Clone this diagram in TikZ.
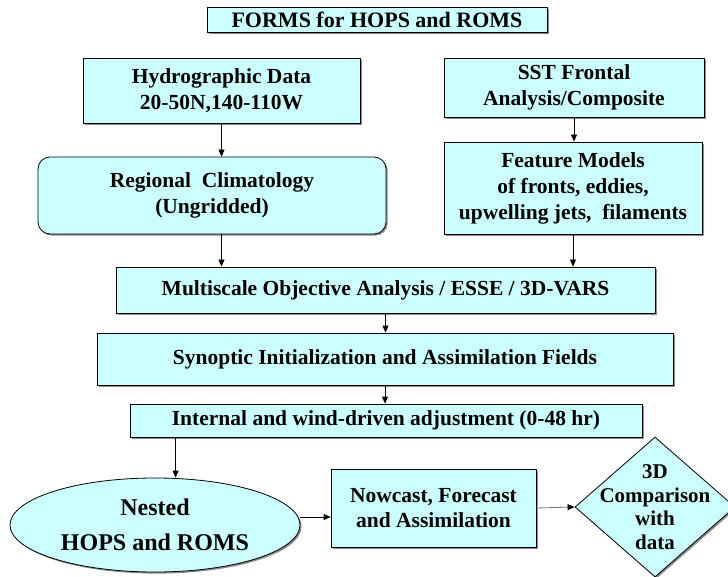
\documentclass[tikz,border=0pt]{standalone}
\usepackage{fontspec}
\setmainfont{Liberation Serif}
\usetikzlibrary{arrows.meta,shapes.geometric,shadows}
\definecolor{cyanclair}{HTML}{CCFFFF}
\definecolor{ombre}{HTML}{8C8C8C}
\tikzset{
  boite/.style={draw=black,line width=0.8pt,fill=cyanclair,align=center,
                font=\fontsize{21.5}{26}\selectfont\bfseries,inner sep=0pt,
                drop shadow={shadow xshift=1.6pt,shadow yshift=-1.6pt,fill=ombre,opacity=1}},
  fleche/.style={-{Triangle[length=7pt,width=6pt,color=black]},line width=0.8pt},
}

\begin{document}
\begin{tikzpicture}[x=1pt,y=-1pt]
  \useasboundingbox (0,0) rectangle (728,577);
  \node[boite,minimum width=340pt,minimum height=25pt,font=\fontsize{22}{26}\selectfont\bfseries] (titre) at (377,20) {FORMS for HOPS and ROMS};
  \node[boite,minimum width=277pt,minimum height=65pt] (hydro) at (221.5,90.5) {Hydrographic Data\\20-50N,140-110W};
  \node[boite,minimum width=260pt,minimum height=59pt] (sst) at (574,87.5) {SST Frontal\\Analysis/Composite};
  \node[boite,rounded corners=12pt,minimum width=348pt,minimum height=77pt] (clim) at (212,195.5) {Regional~ Climatology\\(Ungridded)};
  \node[boite,minimum width=258pt,minimum height=92pt] (modeles) at (573,188) {Feature Models\\of fronts, eddies,\\upwelling jets,~ filaments};
  \node[boite,minimum width=539pt,minimum height=46pt] (oa) at (385.5,290) {Multiscale Objective Analysis / ESSE / 3D-VARS};
  \node[boite,minimum width=576pt,minimum height=52pt] (init) at (385,359) {Synoptic Initialization and Assimilation Fields};
  \node[boite,minimum width=512pt,minimum height=33pt] (ajust) at (386,420.5) {Internal and wind-driven adjustment (0-48 hr)};
  \node[boite,ellipse,minimum width=290pt,minimum height=94pt,font=\fontsize{24}{35}\selectfont\bfseries] (nested) at (155,525) {Nested\\HOPS and ROMS};
  \node[boite,minimum width=205pt,minimum height=78pt,font=\fontsize{21.5}{25}\selectfont\bfseries] (prev) at (433.5,508) {Nowcast, Forecast\\and Assimilation};
  \node[boite,diamond,minimum width=160pt,minimum height=140pt,
        label={[align=center,font=\fontsize{21}{23.5}\selectfont\bfseries]center:3D\\Comparison\\with\\data}] (comp) at (655,507) {};
  \draw[fleche] (hydro.south) -- (hydro.south |- clim.north);
  \draw[fleche] (sst.south) -- (sst.south |- modeles.north);
  \draw[fleche] (hydro.south |- clim.south) -- (hydro.south |- oa.north);
  \draw[fleche] (modeles.south) -- (modeles.south |- oa.north);
  \draw[fleche] (oa.south) -- (oa.south |- init.north);
  \draw[fleche] (init.south) -- (init.south |- ajust.north);
  \draw[fleche] ([xshift=46pt]ajust.south west) -- ([xshift=46pt]ajust.south west |- nested.north);
  \draw[fleche] ([yshift=8pt]nested.east) -- ([yshift=8pt]nested.east -| prev.west);
  \draw[fleche,draw=black!55] (prev.east) -- (comp.west);
\end{tikzpicture}
\end{document}
